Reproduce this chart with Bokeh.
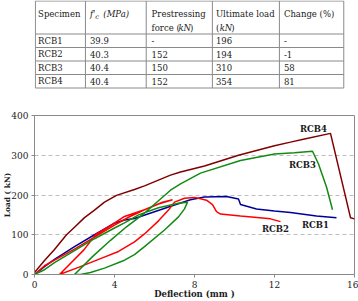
from bokeh.plotting import figure
from bokeh.layouts import column
from bokeh.models import FixedTicker, Range1d
from bokeh.core.properties import value
from bokeh.embed import file_html
from bokeh.resources import INLINE

# ---------------- table data ----------------
specimens = ["RCB1", "RCB2", "RCB3", "RCB4"]
fc_mpa = ["39.9", "40.3", "40.4", "40.4"]
prestress_kn = ["-", "152", "150", "152"]
ultimate_kn = ["196", "194", "310", "354"]
change_pct = ["-", "-1", "58", "81"]

# ---------------- curve data (deflection mm, load kN) ----------------
rcb1_x = [0, 0.5, 1, 2, 3, 4, 4.5, 5, 6, 7, 7.8, 8.5, 9.6, 10.2, 10.3, 11.1, 12, 12.8, 14.1, 15.1]
rcb1_y = [0, 20, 38, 70, 100, 129, 137, 141, 158, 175, 188, 195, 196, 190, 176, 165, 160, 156, 147, 143]

rcb2_x = [0, 0.5, 1, 2, 3, 4, 4.7, 5.5, 6.4, 6.9,
          6.2, 5.5, 4.5, 3.8, 3.05, 2.47, 1.25,
          2.2, 3.3, 4.2, 5.0, 5.5, 6.2, 6.7, 7.0, 7.5, 8.0, 8.6, 8.9, 9.1, 9.3, 10.3, 11.8, 12.3]
rcb2_y = [0, 22, 36, 64, 94, 124, 144, 163, 182, 188,
          177, 163, 146, 123, 100, 62, 0,
          18, 40, 58, 82, 102, 135, 162, 182, 192, 194, 187, 176, 158, 152, 147, 140, 133]

rcb3_x = [0, 0.5, 1, 2, 3, 4, 4.5, 5.2, 6.2, 7.2, 7.65,
          7.5, 7.2, 6.5, 5.5, 5.0, 4.5, 3.5, 2.8, 2.3,
          2.0, 2.9, 3.8, 4.6, 5.47, 6.3, 6.8, 7.3, 8.3, 10.3, 12.0, 13.0, 13.9, 14.2, 14.6, 14.9]
rcb3_y = [0, 12, 30, 60, 90, 117, 130, 150, 168, 179, 182,
          165, 145, 112, 70, 50, 36, 16, 5, 0,
          0, 45, 86, 120, 153, 190, 212, 228, 255, 287, 303, 306, 310, 278, 220, 163]

rcb4_x = [0, 0.5, 1, 1.6, 2, 2.5, 3, 3.5, 4.1, 5, 5.5, 6.8, 7.3, 8.5, 10.2, 12, 12.8, 13.5, 14.8, 15.8, 16]
rcb4_y = [5, 35, 63, 100, 119, 143, 162, 182, 199, 214, 223, 250, 258, 273, 300, 324, 333, 341, 355, 143, 140]

series_names = ["RCB1", "RCB2", "RCB3", "RCB4"]
x_ticks = [0, 4, 8, 12, 16]
y_ticks = [0, 100, 200, 300, 400]
x_title = "Deflection (mm )"
y_title = "Load ( kN)"

# ---------------- styles / layout ----------------
SERIF = "DejaVu Serif"
colors = {"RCB1": "#000099", "RCB2": "#ff0000", "RCB3": "#138a13", "RCB4": "#800000"}
W = 358
TH = 90
CH = 211
GRID_C = "#8a8a8a"
TXT_C = "#1a1a1a"

# ======================= TABLE =======================
t = figure(width=W, height=TH, x_range=Range1d(0, W), y_range=Range1d(TH, 0),
           toolbar_location=None, output_backend="svg",
           x_axis_type=None, y_axis_type=None, min_border=0)
t.outline_line_color = None
t.background_fill_color = "white"
t.border_fill_color = "white"

col_lines = [1, 57, 125, 199, 274, 346]
row_lines = [0.5, 33.5, 47, 60.5, 74, 87.5]
t.segment(x0=col_lines, y0=[row_lines[0]] * len(col_lines),
          x1=col_lines, y1=[row_lines[-1]] * len(col_lines),
          line_color=GRID_C, line_width=1)
t.segment(x0=[col_lines[0]] * len(row_lines), y0=row_lines,
          x1=[col_lines[-1]] * len(row_lines), y1=row_lines,
          line_color=GRID_C, line_width=1)

col_x = [4, 62, 131, 203, 279]
row_c = [(row_lines[i] + row_lines[i + 1]) / 2 for i in range(1, 5)]
FS = "8.5px"

def ttext(xs, ys, texts, style="normal", size=FS):
    t.text(x=xs, y=ys, text=texts, text_font=value(SERIF), text_font_size=value(size),
           text_font_style=style, text_baseline="middle", text_align="left",
           text_color=TXT_C)

columns_data = [specimens, fc_mpa, prestress_kn, ultimate_kn, change_pct]
for ci, col in enumerate(columns_data):
    ttext([col_x[ci]] * len(col), row_c, col)

H1, H2 = 13, 27
ttext([col_x[0]], [H1], ["Specimen"])
ttext([col_x[1]], [H1], ["f'"], style="italic")
ttext([col_x[1] + 6.0], [H1 + 3], ["c"], style="italic", size="6.5px")
ttext([col_x[1] + 15], [H1], ["(MPa)"], style="italic")
ttext([col_x[2]], [H1], ["Prestressing"])
ttext([col_x[2]], [H2], ["force ("])
ttext([col_x[2] + 30.0], [H2], ["kN"], style="italic")
ttext([col_x[2] + 43.0], [H2], [")"])
ttext([col_x[3]], [H1], ["Ultimate load"])
ttext([col_x[3]], [H2], ["("])
ttext([col_x[3] + 4.2], [H2], ["kN"], style="italic")
ttext([col_x[3] + 17.2], [H2], [")"])
ttext([col_x[4]], [H1], ["Change (%)"])

# ======================= CHART =======================
ML, MR, MT, MB = 34, 4, 25, 27
p = figure(width=W, height=CH, x_range=Range1d(0, 16), y_range=Range1d(0, 400),
           toolbar_location=None, output_backend="svg",
           min_border_left=ML, min_border_right=MR, min_border_top=MT, min_border_bottom=MB)
p.background_fill_color = "white"
p.border_fill_color = "white"
p.outline_line_color = GRID_C

FW = W - ML - MR
FH = CH - MT - MB
Y0 = 90 + MT + FH  # absolute page y of load 0

def dx(px):
    return (px - ML) * 16.0 / FW

def dy(py):
    return (Y0 - py) * 400.0 / FH

for ax in (p.xaxis, p.yaxis):
    ax.axis_line_color = GRID_C
    ax.major_tick_line_color = GRID_C
    ax.minor_tick_line_color = None
    ax.major_tick_in = 0
    ax.major_tick_out = 3
    ax.major_label_text_font = SERIF
    ax.major_label_text_font_size = "9px"
    ax.major_label_text_color = TXT_C
    ax.axis_label_text_font = SERIF
    ax.axis_label_text_font_style = "bold"
    ax.axis_label_text_color = TXT_C
p.xaxis.ticker = FixedTicker(ticks=x_ticks)
p.yaxis.ticker = FixedTicker(ticks=y_ticks)
p.xaxis.major_label_standoff = 3
p.yaxis.major_label_standoff = 3
p.xaxis.axis_label = x_title
p.yaxis.axis_label = y_title
p.xaxis.axis_label_text_font_size = "8.5px"
p.yaxis.axis_label_text_font_size = "7.5px"
p.xaxis.axis_label_standoff = -2
p.yaxis.axis_label_standoff = -4
p.xgrid.visible = False
p.ygrid.grid_line_color = "#bdbdbd"
p.ygrid.grid_line_dash = "4 3"
p.ygrid.grid_line_width = 1

curves = {"RCB1": (rcb1_x, rcb1_y), "RCB2": (rcb2_x, rcb2_y),
          "RCB3": (rcb3_x, rcb3_y), "RCB4": (rcb4_x, rcb4_y)}
for name in series_names:
    xs, ys = curves[name]
    p.line(xs, ys, line_color=colors[name], line_width=1.5)

# series labels (page pixel positions)
lab_pix = {"RCB4": (313, 128), "RCB3": (302, 164), "RCB2": (275, 228), "RCB1": (315, 224)}
p.text(x=[dx(lab_pix[n][0]) for n in series_names], y=[dy(lab_pix[n][1]) for n in series_names],
       text=series_names, text_font=value(SERIF), text_font_style="bold",
       text_font_size=value("8.5px"), text_align="center", text_baseline="middle",
       text_color=TXT_C)

layout = column(t, p, spacing=0)
open("out.html", "w").write(file_html(layout, INLINE))
